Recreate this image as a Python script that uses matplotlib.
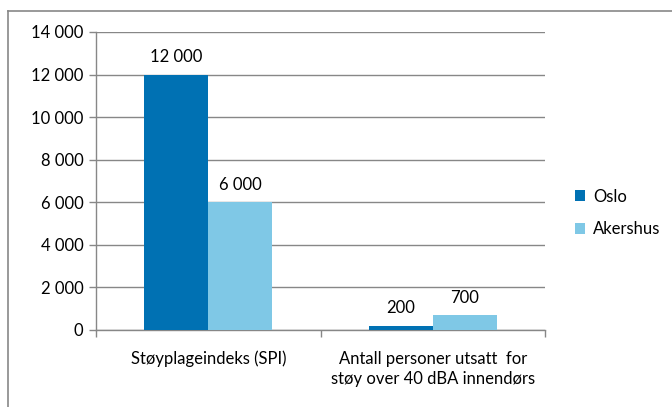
import matplotlib.pyplot as plt
from matplotlib.ticker import FuncFormatter, MultipleLocator
from matplotlib.lines import Line2D
import numpy as np

# data
categories = ['Støyplageindeks (SPI)', 'Antall personer utsatt  for\nstøy over 40 dBA innendørs']
series = ['Oslo', 'Akershus']
oslo = [12000, 200]
akershus = [6000, 700]
colors = ['#0071B3', '#7FC8E6']

plt.rcParams['font.family'] = ['Lato', 'DejaVu Sans']
grey = '#878787'
fs = 12


def spaced(v, pos=None):
    return f'{int(v):,}'.replace(',', ' ')


fig = plt.figure(figsize=(6.72, 4.07), dpi=100)
ax = fig.add_axes([0.1429, 0.1892, 0.8110 - 0.1429, 0.9214 - 0.1892])

x = np.arange(len(categories))
w = 0.2844
b1 = ax.bar(x - w / 2, oslo, w, color=colors[0], label=series[0], zorder=3)
b2 = ax.bar(x + w / 2, akershus, w, color=colors[1], label=series[1], zorder=3)

for bars, vals in ((b1, oslo), (b2, akershus)):
    for r, v in zip(bars, vals):
        ax.text(r.get_x() + r.get_width() / 2, v + 450, spaced(v),
                ha='center', va='bottom', fontsize=fs)

ax.set_xlim(-0.5, len(categories) - 0.5)
ax.set_ylim(0, 14000)
ax.yaxis.set_major_locator(MultipleLocator(2000))
ax.yaxis.set_major_formatter(FuncFormatter(spaced))
ax.yaxis.grid(True, color=grey, linewidth=1, zorder=0)
ax.set_axisbelow(True)

ax.set_xticks(x)
ax.set_xticklabels(categories, fontsize=fs, linespacing=1.3)
ax.set_xticks(np.arange(len(categories) + 1) - 0.5, minor=True)
ax.tick_params(axis='x', which='major', length=0, pad=15)
ax.tick_params(axis='x', which='minor', length=5, color=grey, width=1)
ax.tick_params(axis='y', length=5, color=grey, width=1, labelsize=fs, pad=4)

for s in ('top', 'right'):
    ax.spines[s].set_visible(False)
for s in ('left', 'bottom'):
    ax.spines[s].set_color(grey)
    ax.spines[s].set_linewidth(1)

ax.legend(loc='center left', bbox_to_anchor=(0.855, 0.477), bbox_transform=fig.transFigure,
          frameon=False, fontsize=fs, handlelength=0.65, handleheight=0.65,
          handletextpad=0.45, labelspacing=1.0, borderpad=0, borderaxespad=0)

# chart area border (top and left edges)
fig.add_artist(Line2D([8 / 672, 1], [1 - 11 / 407, 1 - 11 / 407], color=grey, lw=1.2))
fig.add_artist(Line2D([8 / 672, 8 / 672], [0, 1 - 11 / 407], color=grey, lw=1.2))

fig.savefig('out.png', dpi=100)
